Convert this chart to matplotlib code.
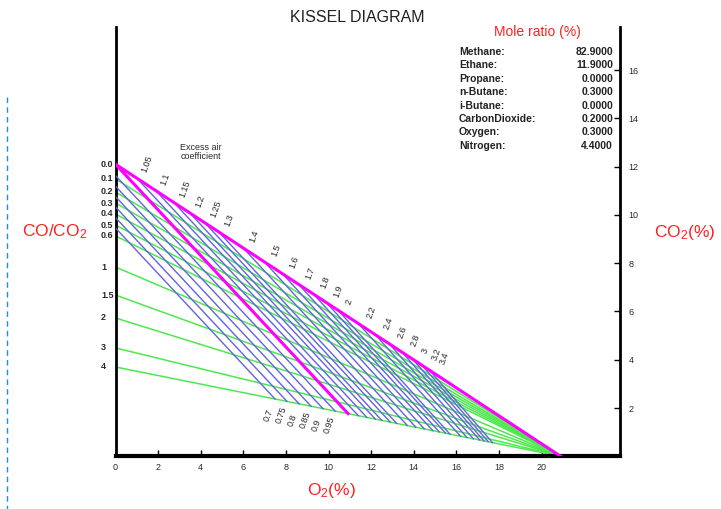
import numpy as np
import matplotlib
matplotlib.use("Agg")
import matplotlib.pyplot as plt
from matplotlib.lines import Line2D

# ---------------- data ----------------
o2_end_point = 20.9          # all CO/CO2 lines converge here (O2 %, CO2 = 0)

# constant CO/CO2 ratio lines: CO2 intercept at O2 = 0
co_ratio_labels = ["0.0", "0.1", "0.2", "0.3", "0.4", "0.5", "0.6", "1", "1.5", "2", "3", "4"]
co_ratio_co2_start = [12.1, 11.49, 10.95, 10.49, 10.04, 9.58, 9.13, 7.84, 6.68, 5.73, 4.49, 3.70]

# excess-air lines with lambda > 1: start O2 on the CO/CO2 = 0 line, end O2 on the CO/CO2 = 4 line
lam_hi_labels = ["1.05", "1.1", "1.15", "1.2", "1.25", "1.3", "1.4", "1.5", "1.6", "1.7",
                 "1.8", "1.9", "2", "2.2", "2.4", "2.6", "2.8", "3", "3.2", "3.4"]
lam_hi_o2_start = [1.0, 1.9, 2.75, 3.5, 4.2, 4.85, 6.0, 7.0, 7.85, 8.6,
                   9.3, 9.9, 10.45, 11.4, 12.2, 12.85, 13.45, 13.95, 14.4, 14.75]
lam_hi_o2_end = [11.4, 11.8, 12.2, 12.5, 12.9, 13.2, 13.7, 14.1, 14.5, 14.9,
                 15.2, 15.5, 15.7, 16.2, 16.5, 16.8, 17.1, 17.3, 17.5, 17.7]

# excess-air lines with lambda < 1: start CO2 at O2 = 0, end O2 on the CO/CO2 = 4 line
lam_lo_labels = ["0.95", "0.9", "0.85", "0.8", "0.75", "0.7"]
lam_lo_co2_start = [11.63, 11.19, 10.76, 10.33, 9.89, 9.46]
lam_lo_o2_end = [10.31, 9.74, 9.18, 8.62, 8.05, 7.49]

# stoichiometric line (lambda = 1)
lam1_o2_end = 10.92

x_ticks = [0, 2, 4, 6, 8, 10, 12, 14, 16, 18, 20]
y_ticks = [2, 4, 6, 8, 10, 12, 14, 16]

gas_names = ["Methane:", "Ethane:", "Propane:", "n-Butane:", "i-Butane:",
             "CarbonDioxide:", "Oxygen:", "Nitrogen:"]
gas_values = ["82.9000", "11.9000", "0.0000", "0.3000", "0.0000", "0.2000", "0.3000", "4.4000"]

# ---------------- style ----------------
GREEN = "#4de84d"
BLUE = "#6262e4"
PINK = "#ff00ff"
RED = "#ff2020"
TXT = "#2a2a2a"
SANS = ["Liberation Sans", "DejaVu Sans"]

plt.rcParams["font.family"] = SANS
plt.rcParams["mathtext.fontset"] = "custom"
plt.rcParams["mathtext.rm"] = "Liberation Sans"
plt.rcParams["mathtext.it"] = "Liberation Sans"

W, H = 721, 509
fig = plt.figure(figsize=(W / 100, H / 100), dpi=100)
fig.patch.set_facecolor("white")

x0, x1, yb, yt = 115.5, 620, 456.3, 27
ax = fig.add_axes([x0 / W, (H - yb) / H, (x1 - x0) / W, (yb - yt) / H])
xmax = (x1 - x0) / 21.3
ymax = (yb - yt) / 24.14
ax.set_xlim(0, xmax)
ax.set_ylim(0, ymax)

top_line = co_ratio_co2_start[0]
r4_start = co_ratio_co2_start[-1]


def co2_on_top(o2):
    return np.interp(o2, [0, o2_end_point], [top_line, 0])


def co2_on_r4(o2):
    return np.interp(o2, [0, o2_end_point], [r4_start, 0])


# green CO/CO2 lines
for i, c in enumerate(co_ratio_co2_start):
    if i == 0:
        continue
    ax.plot([0, o2_end_point], [c, 0], color=GREEN, lw=1.1, zorder=2, solid_capstyle="butt")

# blue lambda > 1 lines
for s, e in zip(lam_hi_o2_start, lam_hi_o2_end):
    ax.plot([s, e], [co2_on_top(s), co2_on_r4(e)], color=BLUE, lw=1.0, zorder=3)

# blue lambda < 1 lines
for c, e in zip(lam_lo_co2_start, lam_lo_o2_end):
    ax.plot([0, e], [c, co2_on_r4(e)], color=BLUE, lw=1.0, zorder=3)

# pink lines
ax.plot([0, o2_end_point], [top_line, 0], color=PINK, lw=2.2, zorder=5)
ax.plot([0, lam1_o2_end], [top_line, co2_on_r4(lam1_o2_end)], color=PINK, lw=2.2, zorder=5)

# lambda labels
for i, (lab, s) in enumerate(zip(lam_hi_labels, lam_hi_o2_start)):
    dx = 8 + 4 * i / (len(lam_hi_labels) - 1)
    ax.annotate(lab, xy=(s, co2_on_top(s)), xytext=(dx, 3), textcoords="offset points",
                rotation=70, rotation_mode="anchor", ha="left", va="bottom",
                fontsize=6.5, color=TXT, zorder=6)
for lab, e in zip(lam_lo_labels, lam_lo_o2_end):
    ax.annotate(lab, xy=(e, co2_on_r4(e)), xytext=(-3, -17), textcoords="offset points",
                rotation=70, rotation_mode="anchor", ha="left", va="bottom",
                fontsize=6.5, color=TXT, zorder=6)

# CO/CO2 ratio labels on the left
for lab, c in zip(co_ratio_labels, co_ratio_co2_start):
    ax.text(-0.68, c, lab, ha="left", va="center", fontsize=6.5, fontweight="bold",
            color=TXT, clip_on=False)

ax.text(4.0, 12.6, "Excess air\ncoefficient", ha="center", va="center", fontsize=6.5,
        color=TXT, linespacing=1.0)

# axes styling
ax.spines["top"].set_visible(False)
ax.spines["left"].set_linewidth(2.0)
ax.spines["right"].set_linewidth(2.0)
ax.spines["bottom"].set_linewidth(3.0)
ax.set_xticks(x_ticks)
ax.set_xticklabels([str(v) for v in x_ticks])
ax.yaxis.tick_right()
ax.set_yticks(y_ticks)
ax.set_yticklabels([str(v) for v in y_ticks])
ax.tick_params(axis="x", direction="in", length=4, width=1, labelsize=6.5, pad=5,
               labelcolor=TXT)
ax.tick_params(axis="y", direction="in", length=4, width=1, labelsize=6.5, pad=6,
               labelcolor=TXT)

# titles and axis labels
fig.text(357 / W, 1 - 18 / H, "KISSEL DIAGRAM", ha="center", va="center", fontsize=11.5,
         color="#222222")
fig.text(537 / W, 1 - 32 / H, "Mole ratio (%)", ha="center", va="center", fontsize=10,
         color=RED)
fig.text(55 / W, 1 - 232 / H, r"CO/CO$_2$", ha="center", va="center", fontsize=12.5,
         color=RED)
fig.text(685 / W, 1 - 233 / H, r"CO$_2$(%)", ha="center", va="center", fontsize=12.5,
         color=RED)
fig.text(331 / W, 1 - 491 / H, r"O$_2$(%)", ha="center", va="center", fontsize=12.5,
         color=RED)

# mole ratio table
for i, (n, v) in enumerate(zip(gas_names, gas_values)):
    yy = 1 - (52 + i * 13.4) / H
    fig.text(459 / W, yy, n, ha="left", va="center", fontsize=7.5, fontweight="bold",
             color="#222222")
    fig.text(613 / W, yy, v, ha="right", va="center", fontsize=7.5, fontweight="bold",
             color="#222222")

# dashed guide line at far left
fig.add_artist(Line2D([7 / W, 7 / W], [1 - 97 / H, 0.0], transform=fig.transFigure,
                      color="#1e8ee8", lw=1.0, ls=(0, (4, 3))))

fig.savefig("out.png", dpi=100)
